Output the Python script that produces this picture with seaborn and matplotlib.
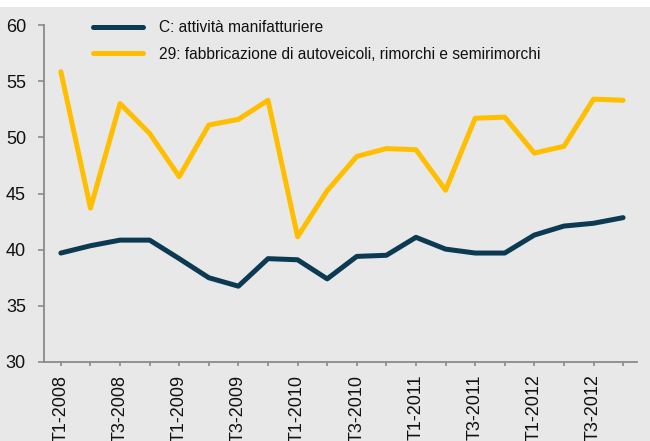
import matplotlib
matplotlib.use("Agg")
import matplotlib.pyplot as plt
import seaborn as sns
import pandas as pd
from matplotlib.patches import Rectangle
from matplotlib.lines import Line2D

quarters = ["T1-2008", "T2-2008", "T3-2008", "T4-2008",
            "T1-2009", "T2-2009", "T3-2009", "T4-2009",
            "T1-2010", "T2-2010", "T3-2010", "T4-2010",
            "T1-2011", "T2-2011", "T3-2011", "T4-2011",
            "T1-2012", "T2-2012", "T3-2012", "T4-2012"]
manifatturiere = [39.7, 40.35, 40.85, 40.85, 39.2, 37.5, 36.75, 39.2, 39.1, 37.4,
                  39.4, 39.5, 41.1, 40.05, 39.7, 39.7, 41.3, 42.1, 42.35, 42.85]
autoveicoli = [55.85, 43.7, 53.0, 50.35, 46.5, 51.1, 51.6, 53.3, 41.15, 45.25,
               48.3, 49.0, 48.9, 45.3, 51.7, 51.8, 48.6, 49.2, 53.4, 53.3]
series_names = ["C: attività manifatturiere",
                "29: fabbricazione di autoveicoli, rimorchi e semirimorchi"]
colors = ["#0c3a52", "#ffbf00"]
y_ticks = [30, 35, 40, 45, 50, 55, 60]

df = pd.DataFrame({
    "pos": list(range(len(quarters))) * 2,
    "value": manifatturiere + autoveicoli,
    "serie": [series_names[0]] * len(quarters) + [series_names[1]] * len(quarters),
})

sns.set_theme(style="white")
plt.rcParams["font.family"] = ["Liberation Sans", "DejaVu Sans"]

bg = "#e8e8e8"
fig = plt.figure(figsize=(6.5, 4.41), dpi=100, facecolor=bg)
fig.patches.append(Rectangle((0, 434 / 441), 1, 7 / 441, transform=fig.transFigure,
                             facecolor="white", edgecolor="none", zorder=0))
ax = fig.add_axes([44 / 650, 1 - 362 / 441, (637 - 44) / 650, (362 - 25) / 441])
ax.set_facecolor(bg)

sns.lineplot(data=df, x="pos", y="value", hue="serie", palette=colors,
             hue_order=series_names, linewidth=3.6, ax=ax, legend=False,
             solid_joinstyle="round", solid_capstyle="round")

ax.set_ylim(30, 60)
ax.set_xlim(-0.57, len(quarters) - 1 + 0.47)
ax.set_yticks(y_ticks)
ax.set_yticklabels([str(t) for t in y_ticks], fontsize=13, color="#111111")
ax.set_xticks(range(len(quarters)))
ax.set_xticklabels([q if i % 2 == 0 else "" for i, q in enumerate(quarters)],
                   rotation=90, fontsize=13, color="#111111")
ax.set_xlabel("")
ax.set_ylabel("")

for s in ["top", "right"]:
    ax.spines[s].set_visible(False)
for s in ["left", "bottom"]:
    ax.spines[s].set_color("#8a8a8a")
    ax.spines[s].set_linewidth(1.3)
ax.tick_params(axis="y", direction="out", length=4, width=1.2, color="#8a8a8a", pad=9, left=True)
ax.tick_params(axis="x", direction="out", length=3, width=1.2, color="#8a8a8a", pad=6, bottom=True)
ax.grid(False)

handles = [Line2D([0], [0], color=c, lw=3.6, solid_capstyle="round") for c in colors]
leg = ax.legend(handles, series_names, loc="upper left", bbox_to_anchor=(93 / 650, 1 - 20 / 441),
                bbox_transform=fig.transFigure, frameon=False, fontsize=11.2,
                handlelength=3.2, handletextpad=1.05, labelspacing=0.75, borderaxespad=0,
                borderpad=0)
for t in leg.get_texts():
    t.set_color("#111111")

fig.savefig("out.png", dpi=100, facecolor=bg)
